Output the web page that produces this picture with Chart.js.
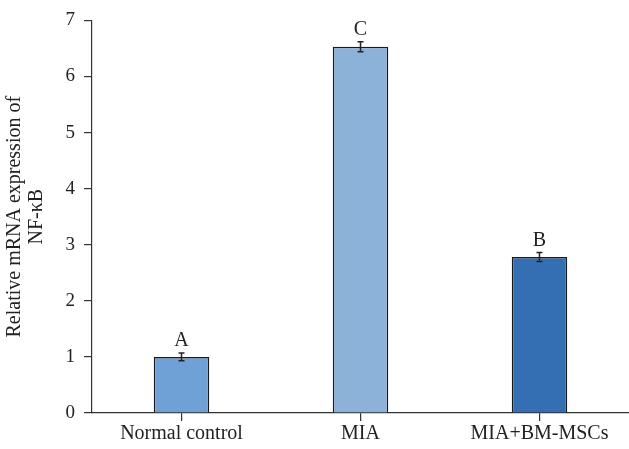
<!DOCTYPE html>
<html>
<head>
<meta charset="utf-8">
<script src="https://cdn.jsdelivr.net/npm/chart.js@4"></script>
<style>
  html, body { margin: 0; padding: 0; background: #fff; }
  #wrap { width: 629px; height: 449px; }
</style>
</head>
<body>
<div id="wrap"><canvas id="chart"></canvas></div>
<script>
const categories = ["Normal control", "MIA", "MIA+BM-MSCs"];
const values = [1.0, 6.53, 2.78];
const errors = [0.07, 0.09, 0.08];
const letters = ["A", "C", "B"];
const barColors = ["#6fa1d7", "#8db2d9", "#336fb2"];
const yTicks = [0, 1, 2, 3, 4, 5, 6, 7];

const serif = "'Liberation Serif', 'DejaVu Serif', serif";

// error bars and significance letters
const annotate = {
  id: "annotate",
  afterDatasetsDraw(chart) {
    const ctx = chart.ctx;
    const y = chart.scales.y;
    const meta = chart.getDatasetMeta(0);
    ctx.save();
    ctx.strokeStyle = "#222";
    ctx.lineWidth = 1.5;
    meta.data.forEach((bar, i) => {
      const top = y.getPixelForValue(values[i] + errors[i]);
      const bot = y.getPixelForValue(values[i] - errors[i]);
      ctx.beginPath();
      ctx.moveTo(bar.x, top); ctx.lineTo(bar.x, bot);
      ctx.moveTo(bar.x - 3, top); ctx.lineTo(bar.x + 3, top);
      ctx.moveTo(bar.x - 3, bot); ctx.lineTo(bar.x + 3, bot);
      ctx.stroke();
      ctx.fillStyle = "#222";
      ctx.font = "20px " + serif;
      ctx.textAlign = "center";
      ctx.textBaseline = "alphabetic";
      ctx.fillText(letters[i], bar.x, top - 7);
    });
    ctx.restore();
  }
};

new Chart(document.getElementById("chart"), {
  type: "bar",
  data: {
    labels: categories,
    datasets: [{
      data: values,
      backgroundColor: barColors,
      borderColor: "#1a1a1a",
      borderWidth: 1.5,
      barPercentage: 0.62,
      categoryPercentage: 0.5
    }]
  },
  options: {
    responsive: true,
    maintainAspectRatio: false,
    animation: false,
    layout: { padding: { top: 12, right: 0, left: 0, bottom: 0 } },
    plugins: { legend: { display: false }, tooltip: { enabled: false } },
    scales: {
      x: {
        grid: { display: true, drawOnChartArea: false, offset: false, tickLength: 8, color: "#333", lineWidth: 1.2 },
        border: { display: true, color: "#333", width: 1.2 },
        ticks: { color: "#222", font: { family: serif, size: 20 }, padding: 1, maxRotation: 0 },
        afterFit(scale) { scale.height = 36; }
      },
      y: {
        min: 0,
        max: 7,
        afterBuildTicks(scale) { scale.ticks = yTicks.map(v => ({ value: v })); },
        grid: { display: true, drawOnChartArea: false, tickLength: 8, color: "#333", lineWidth: 1.2 },
        border: { display: true, color: "#333", width: 1.2 },
        ticks: { color: "#222", font: { family: serif, size: 19 }, padding: 9 },
        title: {
          display: true,
          text: ["Relative mRNA expression of", "NF-κB"],
          color: "#222",
          font: { family: serif, size: 20, lineHeight: 1.1 },
          padding: { top: 4, bottom: 8 }
        },
        afterFit(scale) { scale.width = 92; }
      }
    }
  },
  plugins: [annotate]
});
</script>
</body>
</html>
